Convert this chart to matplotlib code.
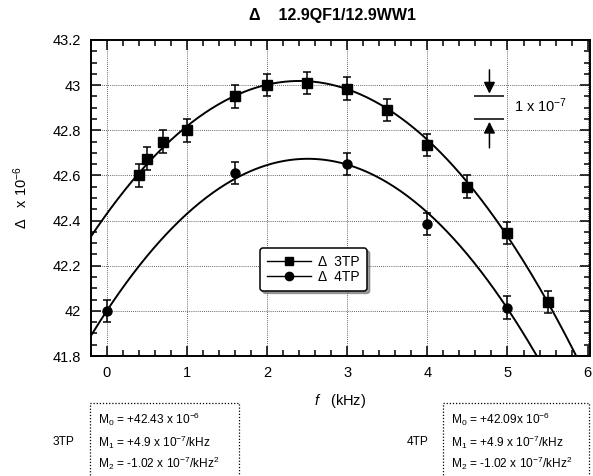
import numpy as np
import matplotlib
matplotlib.use("Agg")
import matplotlib.pyplot as plt
from matplotlib.ticker import MultipleLocator
from matplotlib.lines import Line2D
from matplotlib.patches import Rectangle

plt.rcParams['font.family'] = ['Liberation Sans', 'DejaVu Sans']
plt.rcParams['mathtext.fontset'] = 'custom'
plt.rcParams['mathtext.rm'] = 'Liberation Sans'
plt.rcParams['mathtext.it'] = 'Liberation Sans:italic'

# data
f_3tp = [0.4, 0.5, 0.7, 1.0, 1.6, 2.0, 2.5, 3.0, 3.5, 4.0, 4.5, 5.0, 5.5]
d_3tp = [42.60, 42.675, 42.75, 42.80, 42.95, 43.00, 43.01, 42.985, 42.89, 42.735, 42.55, 42.345, 42.04]
err_3tp = [0.05] * len(f_3tp)

f_4tp = [0.0, 1.6, 3.0, 4.0, 5.0]
d_4tp = [42.00, 42.61, 42.65, 42.385, 42.015]
err_4tp = [0.05] * len(f_4tp)

# quadratic fits (M0, M1, M2) as drawn
fit_3tp = [42.43, 0.49, -0.102]
fit_4tp = [42.00, 0.537, -0.107]

box_3tp = [r"M$_0$ = +42.43 x 10$^{-6}$",
           r"M$_1$ = +4.9 x 10$^{-7}$/kHz",
           r"M$_2$ = -1.02 x 10$^{-7}$/kHz$^2$"]
box_4tp = [r"M$_0$ = +42.09x 10$^{-6}$",
           r"M$_1$ = +4.9 x 10$^{-7}$/kHz",
           r"M$_2$ = -1.02 x 10$^{-7}$/kHz$^2$"]

fig = plt.figure(figsize=(5.93, 4.76), dpi=100)
ax = fig.add_axes([0.153, 0.252, 0.842, 0.664])

xx = np.linspace(-0.2, 6.05, 300)
ax.plot(xx, np.polyval(fit_3tp[::-1], xx), color="black", lw=1.4)
ax.plot(xx, np.polyval(fit_4tp[::-1], xx), color="black", lw=1.4)

ax.errorbar(f_3tp, d_3tp, yerr=err_3tp, fmt="s", color="black", ms=7,
            capsize=3, elinewidth=1.1, capthick=1.1)
ax.errorbar(f_4tp, d_4tp, yerr=err_4tp, fmt="o", color="black", ms=6.5,
            capsize=3, elinewidth=1.1, capthick=1.1)

ax.set_xlim(-0.2, 6.03)
ax.set_ylim(41.8, 43.2)
ax.xaxis.set_major_locator(MultipleLocator(1))
ax.xaxis.set_minor_locator(MultipleLocator(0.2))
ax.yaxis.set_minor_locator(MultipleLocator(0.05))
ax.set_yticks([41.8, 42, 42.2, 42.4, 42.6, 42.8, 43, 43.2])
ax.set_yticklabels(["41.8", "42", "42.2", "42.4", "42.6", "42.8", "43", "43.2"])
ax.tick_params(which="both", direction="in", top=True, right=True, labelsize=10.5, width=1.1)
ax.tick_params(which="major", length=7, pad=7)
ax.tick_params(which="minor", length=4)
ax.grid(True, which="major", linestyle=(0, (1, 1.5)), color="#333333", lw=0.6)
for s in ax.spines.values():
    s.set_linewidth(1.4)

ax.set_xlabel(r"$\it{f}$   (kHz)", fontsize=10.5, labelpad=9)
fig.text(0.035, 0.585, r"$\Delta$   x 10$^{-6}$", rotation=90, fontsize=10.5,
         ha="center", va="center")
fig.text(0.56, 0.968, "Δ    12.9QF1/12.9WW1", fontsize=11.5, fontweight="bold",
         ha="center", va="center")

# scale marker
ax.hlines([42.95, 42.85], 4.58, 4.96, color="black", lw=1.1)
ax.annotate("", xy=(4.775, 42.95), xytext=(4.775, 43.08),
            arrowprops=dict(arrowstyle="-|>", color="black", lw=1.1, mutation_scale=17))
ax.annotate("", xy=(4.775, 42.85), xytext=(4.775, 42.71),
            arrowprops=dict(arrowstyle="-|>", color="black", lw=1.1, mutation_scale=17))
ax.text(5.08, 42.91, r"1 x 10$^{-7}$", fontsize=10.5, va="center")

handles = [Line2D([], [], color="black", marker="s", ms=6, lw=1),
           Line2D([], [], color="black", marker="o", ms=6, lw=1)]
leg = ax.legend(handles, ["Δ  3TP", "Δ  4TP"], loc="lower left",
                bbox_to_anchor=(0.325, 0.185, 0.24, 0.17), fontsize=10,
                frameon=True, fancybox=True, shadow=True, handlelength=3.2,
                labelspacing=0.05, borderpad=0.5, handletextpad=0.5)
leg.get_frame().set_edgecolor("black")
leg.get_frame().set_linewidth(1.1)
leg.get_frame().set_alpha(1)

# parameter boxes
def param_box(x0, x1, label_x, label, lines):
    rect = Rectangle((x0, -0.02), x1 - x0, 0.173, transform=fig.transFigure,
                     fill=False, linestyle=(0, (1, 1.5)), lw=0.9, color="black")
    fig.add_artist(rect)
    rows = [0.120, 0.071, 0.027]
    for r, t in zip(rows, lines):
        fig.text(x0 + 0.014, r, t, fontsize=8.6, va="center")
    fig.text(label_x, 0.071, label, fontsize=8.6, va="center")

param_box(90 / 593, 239 / 593, 53 / 593, "3TP", box_3tp)
param_box(443 / 593, 589 / 593, 407 / 593, "4TP", box_4tp)

fig.savefig("out.png", dpi=100)
